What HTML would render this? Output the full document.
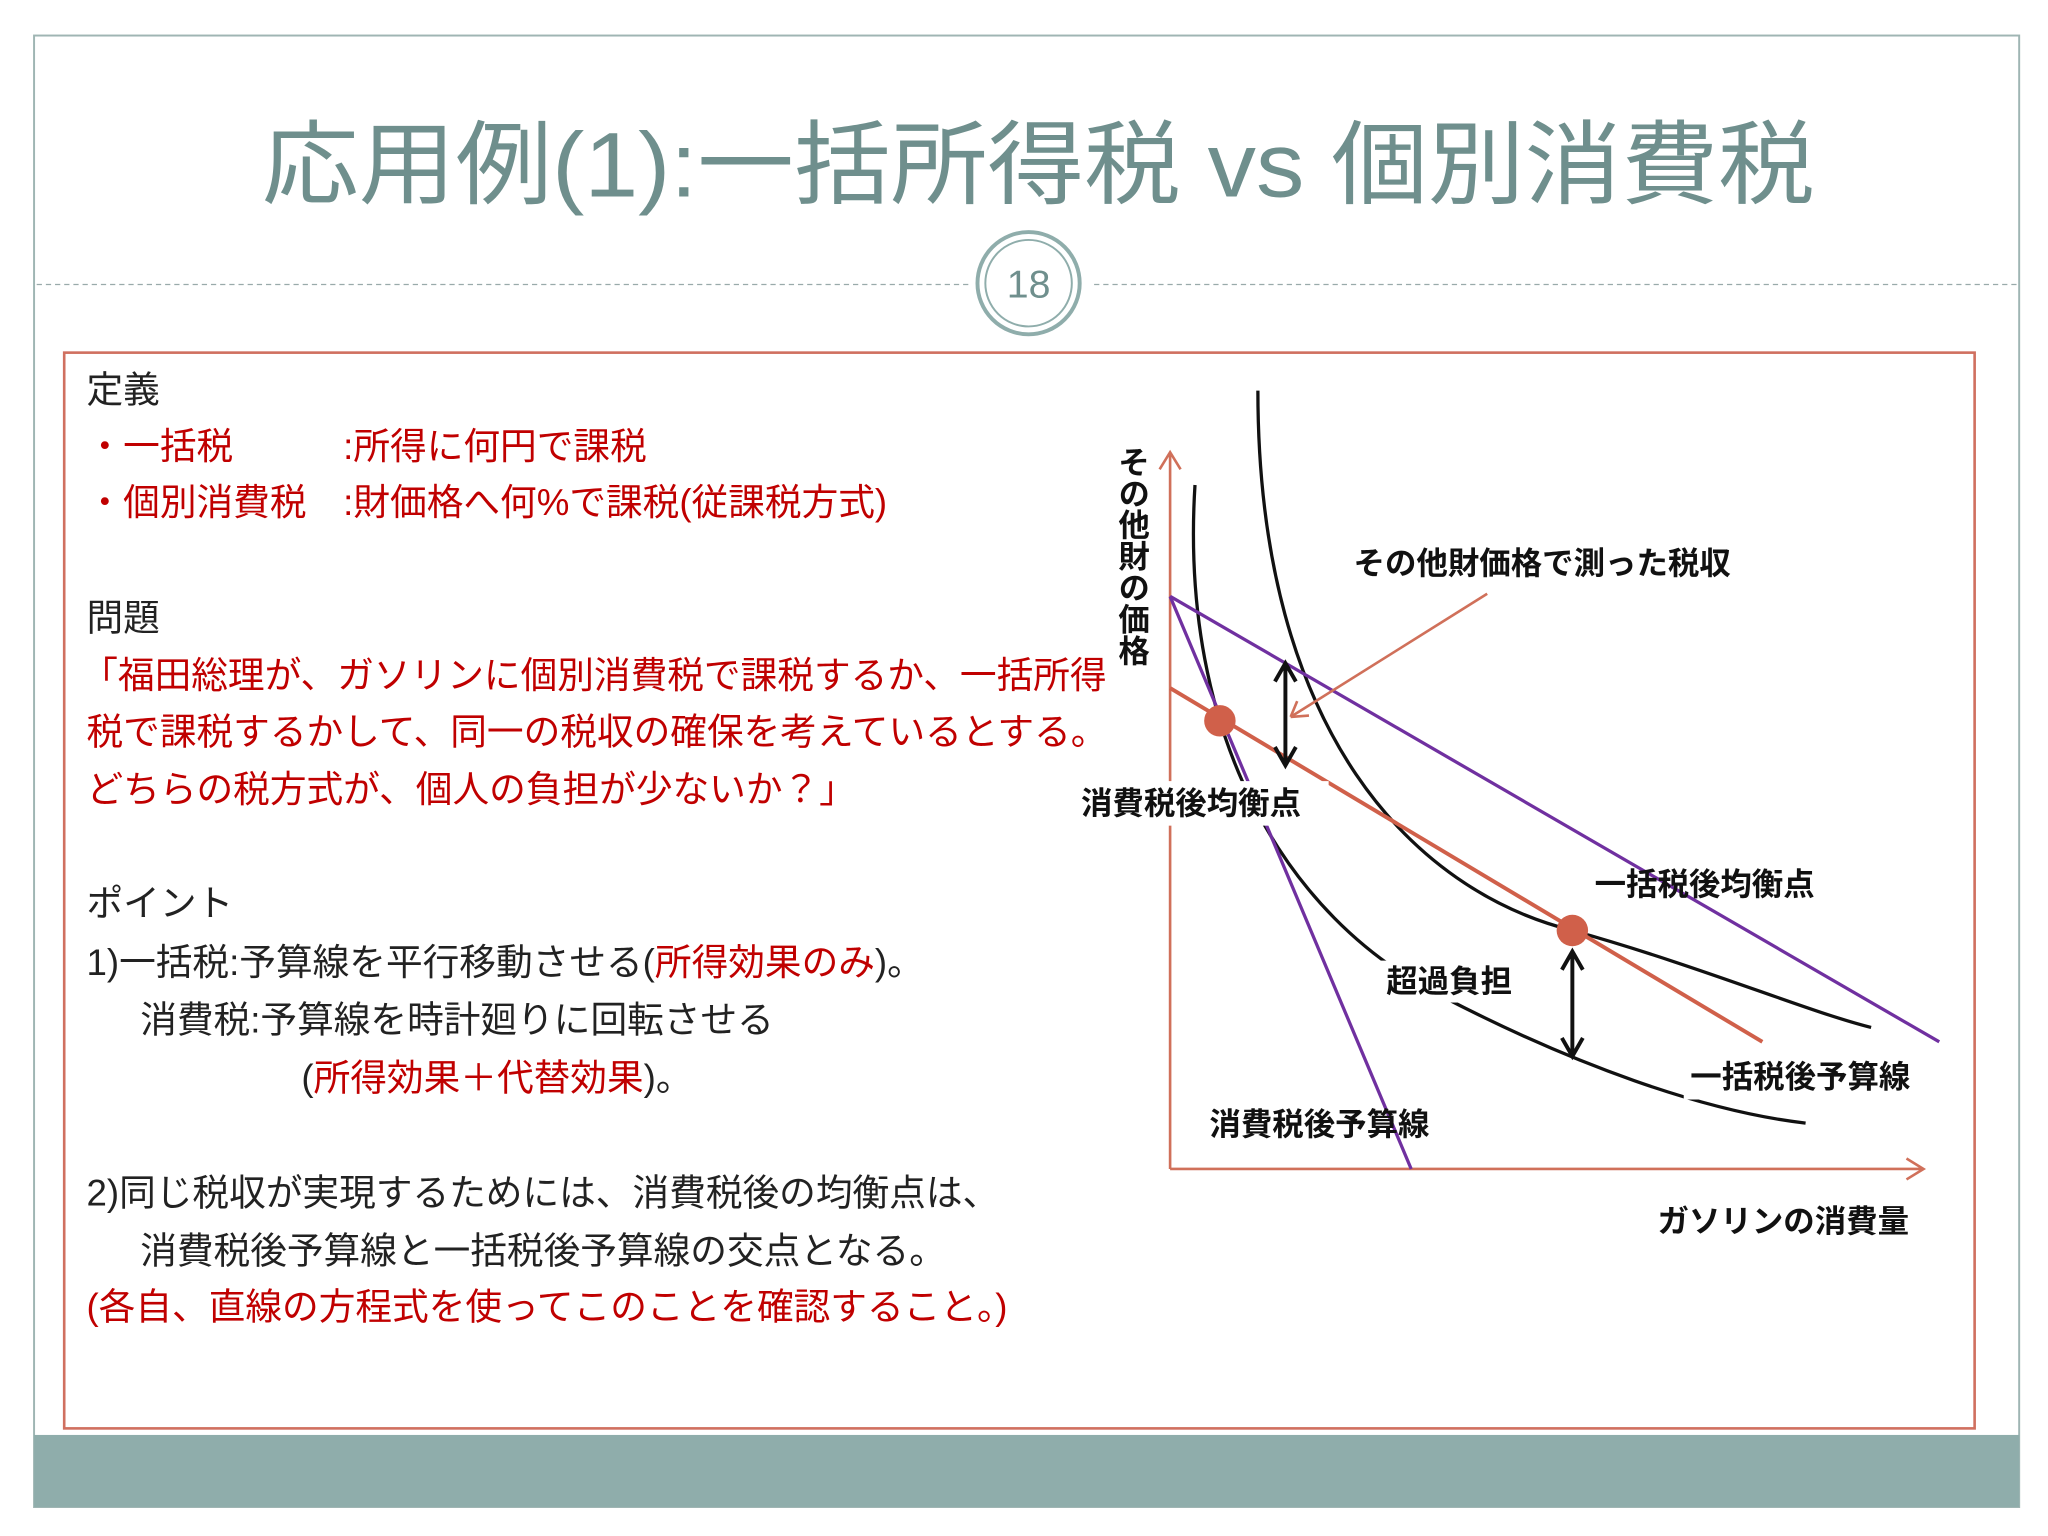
<!DOCTYPE html>
<html><head><meta charset="utf-8"><style>
html,body{margin:0;padding:0;background:#fff}
svg{display:block}
text{font-family:"Liberation Sans","Noto Sans CJK JP",sans-serif}
.t{font-size:28px;fill:#222}
.r{fill:#c00000}
.b{font-size:24px;font-weight:bold;fill:#111}
</style></head><body>
<svg width="2048" height="1536" viewBox="0 0 1563 1172" xmlns="http://www.w3.org/2000/svg">
<rect x="26" y="27" width="1515" height="1123" fill="#fff" stroke="#9fb5b3" stroke-width="1.5"/>
<rect x="26" y="1095" width="1515" height="55" fill="#8fadab"/>
<text x="200" y="150" textLength="1185" lengthAdjust="spacingAndGlyphs" font-size="70" fill="#6f8f8d" font-family="Liberation Serif, Noto Sans CJK JP, sans-serif">応用例(1):一括所得税 vs 個別消費税</text>
<line x1="28" y1="217" x2="740" y2="217" stroke="#9aa" stroke-dasharray="4,3"/>
<line x1="835" y1="217" x2="1540" y2="217" stroke="#9aa" stroke-dasharray="4,3"/>
<g>
<circle cx="785" cy="216" r="39" fill="#fff" stroke="#8fadab" stroke-width="3"/>
<circle cx="785" cy="216" r="33" fill="#fff" stroke="#8fadab" stroke-width="1.5"/>
<text x="785" y="227" text-anchor="middle" font-size="30" fill="#6f8f8d" font-family="Liberation Serif, serif">18</text>
</g>
<rect x="49" y="269" width="1458" height="821" fill="none" stroke="#d07060" stroke-width="2"/>
<g>
<text class="t" x="66" y="307">定義</text>
<text class="t r" x="66" y="350">・一括税　　　:所得に何円で課税</text>
<text class="t r" x="66" y="393">・個別消費税　:財価格へ何%で課税(従課税方式)</text>
<text class="t" x="66" y="481">問題</text>
<text class="t r" x="62" y="525">「福田総理が、ガソリンに個別消費税で課税するか、一括所得</text>
<text class="t r" x="66" y="568">税で課税するかして、同一の税収の確保を考えているとする。</text>
<text class="t r" x="66" y="612">どちらの税方式が、個人の負担が少ないか？」</text>
<text class="t" x="66" y="699">ポイント</text>
<text class="t" x="66" y="744">1)一括税:予算線を平行移動させる(<tspan class="r">所得効果のみ</tspan>)。</text>
<text class="t" x="107" y="788">消費税:予算線を時計廻りに回転させる</text>
<text class="t" x="230" y="832">(<tspan class="r">所得効果＋代替効果</tspan>)。</text>
<text class="t" x="66" y="920">2)同じ税収が実現するためには、消費税後の均衡点は、</text>
<text class="t" x="107" y="964">消費税後予算線と一括税後予算線の交点となる。</text>
<text class="t r" x="66" y="1007">(各自、直線の方程式を使ってこのことを確認すること。)</text>
</g>
<g>
<path d="M893,892 V345 M885,358 L893,345 L901,358" fill="none" stroke="#d0705a" stroke-width="2"/>
<path d="M893,892 H1468 M1455,884 L1468,892 L1455,900" fill="none" stroke="#d0705a" stroke-width="2"/>
<path d="M960,298 C960,560 1080,680 1200,710 C1300,738 1380,772 1428,784" fill="none" stroke="#111" stroke-width="2.5"/>
<path d="M912,370 C900,560 980,700 1100,760 C1200,812 1300,848 1378,857" fill="none" stroke="#111" stroke-width="2.5"/>
<line x1="893" y1="525" x2="1345" y2="795" stroke="#d0604a" stroke-width="3"/>
<line x1="893" y1="455" x2="1480" y2="795" stroke="#7030a0" stroke-width="2.5"/>
<line x1="893" y1="455" x2="1077" y2="892" stroke="#7030a0" stroke-width="2.5"/>
<line x1="1135" y1="453" x2="985" y2="547" stroke="#d0705a" stroke-width="2"/>
<path d="M985,547 l14,-1 M985,547 l5,-12" stroke="#d0705a" stroke-width="2" fill="none"/>
<path d="M981,508 V582 M973,520 L981,506 L989,520 M973,570 L981,584 L989,570" fill="none" stroke="#111" stroke-width="3"/>
<path d="M1200,727 V804 M1192,740 L1200,726 L1208,740 M1192,792 L1200,806 L1208,792" fill="none" stroke="#111" stroke-width="3"/>
<circle cx="931" cy="550" r="12" fill="#d0604a"/>
<circle cx="1200" cy="710" r="12" fill="#d0604a"/>
<rect x="822" y="596" width="192" height="34" fill="#fff"/>
<rect x="1052" y="733" width="115" height="32" fill="#fff"/>
<rect x="1285" y="805" width="193" height="34" fill="#fff"/>
<text class="b" x="1033" y="438">その他財価格で測った税収</text>
<text class="b" x="825" y="621">消費税後均衡点</text>
<text class="b" x="1217" y="683">一括税後均衡点</text>
<text class="b" x="1058" y="757">超過負担</text>
<text class="b" x="1290" y="830">一括税後予算線</text>
<text class="b" x="923" y="866">消費税後予算線</text>
<text class="b" x="1265" y="940">ガソリンの消費量</text>
<text class="b" x="864" y="340" style="writing-mode:vertical-rl;glyph-orientation-vertical:0">その他財の価格</text>
</g>
</svg>
</body></html>
